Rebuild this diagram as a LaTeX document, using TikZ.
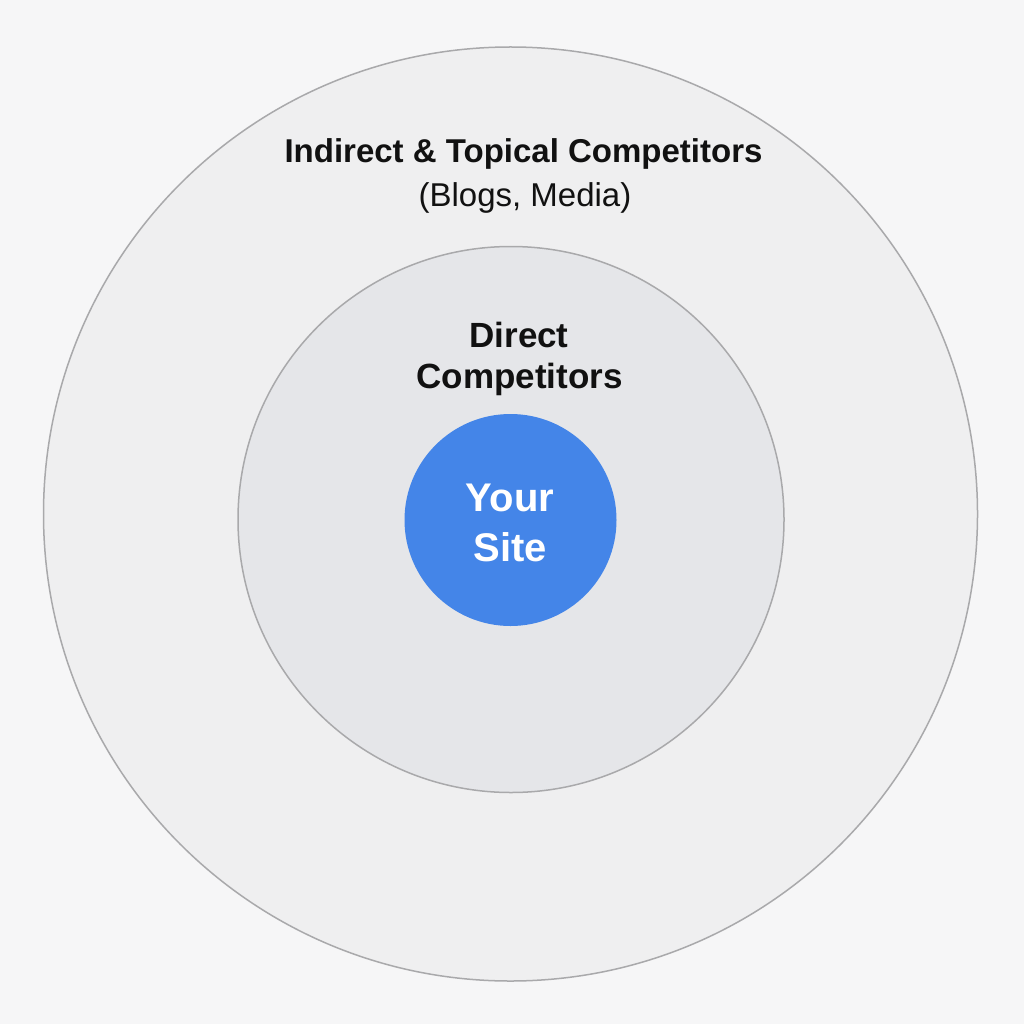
\documentclass[tikz,border=0pt]{standalone}
\usepackage{fontspec}
\setmainfont{Liberation Sans}
\definecolor{bgc}{HTML}{F6F6F7}
\definecolor{outerfill}{HTML}{EFEFF0}
\definecolor{midfill}{HTML}{E5E6E9}
\definecolor{ringline}{HTML}{A9A9AB}
\definecolor{siteblue}{HTML}{4485E8}
\definecolor{textc}{HTML}{111111}
\tikzset{
  ring/.style={draw=ringline, line width=1.5pt},
  lbl/.style={anchor=base, inner sep=0pt, text=textc},
}
\begin{document}
\begin{tikzpicture}[x=1pt,y=-1pt]
\fill[bgc] (0,0) rectangle (1024,1024);
\useasboundingbox (0,0) rectangle (1024,1024);
\node[ring, fill=outerfill, circle, minimum size=934pt, inner sep=0pt] (outer) at (510.5,514) {};
\node[ring, fill=midfill, circle, minimum size=546pt, inner sep=0pt] (middle) at (511,519.5) {};
\node[fill=siteblue, circle, minimum size=212pt, inner sep=0pt] (site) at (510.5,520) {};
\node[lbl, font=\fontsize{33}{40}\selectfont\bfseries] (t1) at (523.5,163) {Indirect \& Topical Competitors};
\node[lbl, font=\fontsize{33}{40}\selectfont] (t2) at (525,207) {(Blogs, Media)};
\node[lbl, font=\fontsize{35}{40}\selectfont\bfseries] (d1) at (519,347) {Direct};
\node[lbl, font=\fontsize{35}{40}\selectfont\bfseries] (d2) at (519.5,388) {Competitors};
\node[lbl, text=white, font=\fontsize{40}{50}\selectfont\bfseries] (s1) at (510,511.5) {Your};
\node[lbl, text=white, font=\fontsize{40}{50}\selectfont\bfseries] (s2) at (510,561) {Site};
\end{tikzpicture}
\end{document}
